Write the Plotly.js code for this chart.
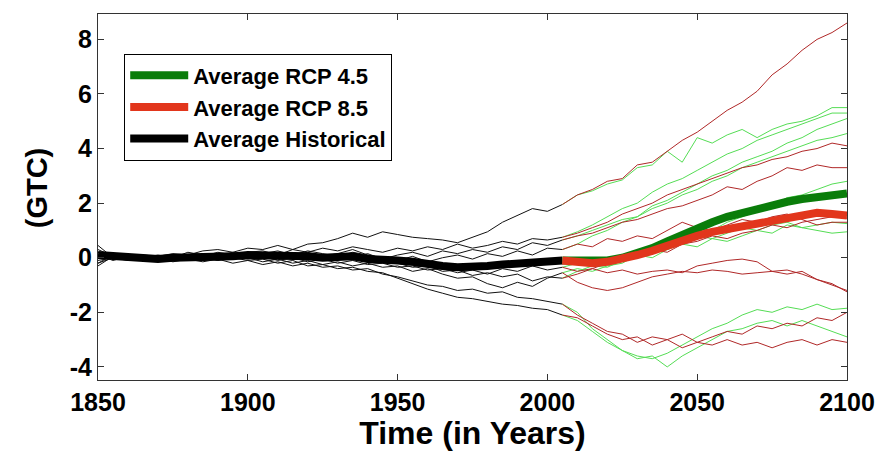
<!DOCTYPE html>
<html>
<head>
<meta charset="utf-8">
<script src="https://cdn.plot.ly/plotly-3.0.1.min.js"></script>
<style>html,body{margin:0;padding:0;background:#fff;}#chart{width:882px;height:451px;}</style>
</head>
<body>
<div id="chart"></div>
<script>
// ---------- data ----------
const histYears = [1850,1855,1860,1865,1870,1875,1880,1885,1890,1895,1900,1905,1910,1915,1920,1925,1930,1935,1940,1945,1950,1955,1960,1965,1970,1975,1980,1985,1990,1995,2000,2005];
const projYears = [2005,2010,2015,2020,2025,2030,2035,2040,2045,2050,2055,2060,2065,2070,2075,2080,2085,2090,2095,2100];

const hist1 = [0.3,0.05,0.0,0.1,0.05,0.15,0.1,0.25,0.3,0.2,0.35,0.3,0.45,0.3,0.5,0.55,0.7,0.9,0.75,0.95,0.85,0.75,0.7,0.65,0.55,0.75,0.95,1.3,1.55,1.8,1.7,1.95];
const hist2 = [-0.2,0.1,-0.05,0.0,0.1,0.0,0.2,0.1,0.15,0.05,0.2,0.25,0.1,0.3,0.2,0.35,0.25,0.4,0.3,0.2,0.35,0.25,0.4,0.3,0.5,0.35,0.45,0.6,0.5,0.7,0.65,0.75];
const hist3 = [0.45,0.0,-0.1,0.05,-0.05,0.1,0.0,0.15,0.05,0.2,0.1,0.0,0.15,0.05,0.0,-0.1,0.05,0.0,0.15,-0.05,0.1,0.2,0.05,0.25,0.15,0.3,0.2,0.4,0.3,0.55,0.45,0.65];
const hist4 = [0.1,-0.1,0.05,-0.05,0.0,0.1,-0.05,0.05,0.2,0.1,0.0,0.15,0.25,0.1,0.2,0.05,0.15,0.3,0.1,0.0,-0.1,0.05,-0.15,0.0,0.1,-0.05,0.15,0.05,0.25,0.1,0.35,0.3];
const hist5 = [-0.3,0.05,-0.05,0.0,-0.1,0.05,0.0,-0.1,0.0,0.1,-0.05,0.05,-0.1,0.0,-0.15,-0.05,-0.2,-0.1,-0.25,-0.2,-0.35,-0.3,-0.45,-0.4,-0.55,-0.45,-0.6,-0.4,-0.5,-0.3,-0.45,-0.35];
const hist6 = [0.2,-0.05,0.0,-0.1,0.05,-0.05,0.1,0.0,-0.1,0.05,0.0,-0.15,-0.05,-0.2,-0.1,-0.25,-0.15,-0.3,-0.2,-0.35,-0.3,-0.5,-0.4,-0.6,-0.75,-0.7,-0.95,-1.1,-0.9,-1.05,-0.75,-0.55];
const hist7 = [-0.1,0.0,0.1,-0.05,0.0,-0.15,-0.05,0.05,-0.1,0.0,0.1,0.0,0.2,0.1,0.25,0.15,0.05,0.2,0.1,-0.05,-0.2,-0.35,-0.3,-0.5,-0.45,-0.65,-0.55,-0.7,-0.6,-0.85,-0.7,-0.75];
const hist8 = [0.0,0.15,-0.05,0.05,-0.1,0.0,-0.05,-0.15,-0.05,-0.2,-0.1,-0.25,-0.15,-0.3,-0.2,-0.35,-0.3,-0.45,-0.4,-0.6,-0.7,-0.85,-1.0,-1.05,-1.2,-1.15,-1.3,-1.25,-1.45,-1.5,-1.6,-1.7];
const hist9 = [-0.2,0.0,0.05,-0.1,0.0,-0.05,0.05,-0.05,0.1,0.0,-0.1,-0.05,-0.2,-0.1,-0.3,-0.25,-0.4,-0.35,-0.5,-0.55,-0.75,-0.95,-1.15,-1.3,-1.45,-1.5,-1.6,-1.7,-1.75,-1.85,-1.9,-2.1];
const histAvg = [0.1,0.05,0.0,0.0,-0.05,0.0,0.0,0.05,0.05,0.05,0.1,0.1,0.1,0.05,0.05,0.0,0.0,0.05,-0.05,-0.05,-0.1,-0.15,-0.25,-0.3,-0.35,-0.35,-0.3,-0.25,-0.2,-0.15,-0.1,-0.1];

const rcp45_1 = [1.95,2.3,2.45,2.7,2.85,3.3,3.4,3.9,3.5,4.4,4.2,4.5,4.7,4.4,4.7,4.9,5.0,5.2,5.5,5.5];
const rcp45_2 = [0.75,0.95,1.2,1.5,1.8,2.0,2.4,2.7,2.9,3.2,3.5,3.8,4.0,4.3,4.5,4.7,4.9,5.1,5.3,5.3];
const rcp45_3 = [0.65,0.8,1.0,1.2,1.4,1.5,1.8,2.0,2.3,2.5,2.8,3.0,3.3,3.5,3.7,3.9,4.1,4.3,4.4,4.55];
const rcp45_4 = [0.3,0.5,0.8,1.0,1.3,1.5,1.9,2.1,2.4,2.7,3.0,3.2,3.5,3.7,3.9,4.2,4.4,4.7,4.9,5.1];
const rcp45_5 = [-0.35,-0.2,-0.3,-0.1,0.0,0.2,0.4,0.3,0.6,0.8,0.7,0.9,1.1,1.0,1.2,1.3,1.1,1.2,1.3,1.25];
const rcp45_6 = [-0.55,-0.4,-0.5,-0.3,-0.2,0.1,0.0,0.3,0.5,0.4,0.7,0.6,0.8,1.0,0.9,1.2,1.1,1.0,0.9,0.95];
const rcp45_7 = [-0.75,-0.5,-0.3,-0.35,-0.1,0.2,0.4,0.6,0.5,0.9,1.0,1.3,1.5,1.7,1.9,2.2,2.3,2.5,2.7,2.8];
const rcp45_8 = [-1.7,-2.0,-2.6,-3.0,-3.4,-3.6,-3.7,-3.5,-3.2,-2.9,-2.6,-2.4,-2.1,-1.9,-2.0,-1.8,-1.9,-1.7,-1.9,-1.85];
const rcp45_9 = [-2.1,-2.3,-2.7,-3.1,-3.4,-3.7,-3.6,-4.0,-3.6,-3.3,-3.0,-2.7,-2.6,-2.4,-2.3,-2.5,-2.3,-2.5,-2.7,-2.9];

const rcp85_1 = [1.95,2.3,2.5,2.8,2.9,3.4,3.5,3.9,4.3,4.6,5.0,5.4,5.7,6.1,6.7,7.1,7.6,8.0,8.25,8.6];
const rcp85_2 = [0.75,0.9,1.1,1.3,1.6,1.8,2.0,2.3,2.5,2.7,2.9,3.1,3.3,3.4,3.6,3.7,3.9,4.0,4.2,4.1];
const rcp85_3 = [0.65,0.8,0.9,1.1,1.3,1.4,1.6,1.8,1.9,2.1,2.3,2.6,2.5,2.8,3.0,3.3,3.2,3.4,3.3,3.3];
const rcp85_4 = [0.3,0.5,0.4,0.7,0.6,0.8,0.7,1.0,1.3,1.1,1.0,1.2,1.4,1.3,1.5,1.6,1.4,1.2,1.3,1.3];
const rcp85_5 = [-0.35,-0.5,-0.4,-0.55,-0.45,-0.6,-0.5,-0.45,-0.55,-0.3,-0.2,-0.1,-0.05,-0.15,-0.5,-0.45,-0.6,-0.8,-0.95,-1.25];
const rcp85_6 = [-0.55,-0.9,-1.1,-1.2,-1.1,-0.9,-0.7,-0.6,-0.5,-0.55,-0.45,-0.5,-0.6,-0.55,-0.5,-0.6,-0.5,-0.8,-1.0,-1.2];
const rcp85_7 = [-0.75,-0.6,-0.4,-0.2,0.0,0.1,0.3,0.2,0.5,0.6,0.8,0.7,0.9,1.0,1.2,1.1,1.3,1.4,1.5,1.45];
const rcp85_8 = [-1.7,-2.1,-2.4,-2.7,-2.8,-3.1,-2.9,-3.0,-2.8,-3.1,-2.9,-2.7,-2.8,-2.5,-2.6,-2.4,-2.5,-2.2,-2.3,-2.0];
const rcp85_9 = [-2.1,-2.2,-2.5,-2.8,-3.0,-2.9,-3.2,-3.0,-3.3,-3.1,-3.2,-3.0,-3.2,-3.1,-3.3,-3.1,-3.0,-3.2,-3.0,-3.1];

const rcp45Avg = [-0.1,-0.1,-0.15,-0.1,0.0,0.15,0.35,0.6,0.85,1.05,1.3,1.5,1.65,1.8,1.9,2.05,2.15,2.2,2.3,2.35];
const rcp85Avg = [-0.1,-0.15,-0.2,-0.15,-0.05,0.1,0.25,0.45,0.65,0.8,0.95,1.05,1.2,1.3,1.4,1.5,1.55,1.65,1.6,1.55];

const legendNames = ['Average RCP 4.5','Average RCP 8.5','Average Historical'];
const xTickVals = [1850,1900,1950,2000,2050,2100];
const yTickVals = [-4,-2,0,2,4,6,8];
const yTickText = ['-4','-2','0','2','4','6','8'];
const xTitle = 'Time (in Years)';
const yTitle = '(GTC)';

// ---------- traces ----------
const histRuns = [hist1,hist2,hist3,hist4,hist5,hist6,hist7,hist8,hist9];
const g45 = [rcp45_1,rcp45_2,rcp45_3,rcp45_4,rcp45_5,rcp45_6,rcp45_7,rcp45_8,rcp45_9];
const r85 = [rcp85_1,rcp85_2,rcp85_3,rcp85_4,rcp85_5,rcp85_6,rcp85_7,rcp85_8,rcp85_9];

const traces = [];
histRuns.forEach(v => traces.push({x: histYears, y: v, mode:'lines', line:{color:'#111', width:1}, showlegend:false, hoverinfo:'skip'}));
g45.forEach(v => traces.push({x: projYears, y: v, mode:'lines', line:{color:'#55dd55', width:1}, showlegend:false, hoverinfo:'skip'}));
r85.forEach(v => traces.push({x: projYears, y: v, mode:'lines', line:{color:'#b02828', width:1}, showlegend:false, hoverinfo:'skip'}));
traces.push({x: histYears, y: histAvg, mode:'lines', name: legendNames[2], legendrank:3, line:{color:'#000', width:8}});
traces.push({x: projYears, y: rcp45Avg, mode:'lines', name: legendNames[0], legendrank:1, line:{color:'#0a7d0a', width:8}});
traces.push({x: projYears, y: rcp85Avg, mode:'lines', name: legendNames[1], legendrank:2, line:{color:'#e2361c', width:8}});

const F = 'Liberation Sans, Arial, sans-serif';
const axisCommon = {
  showgrid:false, zeroline:false, showline:true, mirror:'ticks',
  linecolor:'#333', linewidth:1, ticks:'inside', ticklen:6, tickcolor:'#333',
  tickfont:{family:F, size:25, color:'#000', weight:'bold'}
};

const layout = {
  width:882, height:451,
  margin:{l:98, r:35, t:14, b:71},
  paper_bgcolor:'#fff', plot_bgcolor:'#fff',
  showlegend:true,
  legend:{x:0.035, y:0.892, xanchor:'left', yanchor:'top',
    bgcolor:'#fff', bordercolor:'#000', borderwidth:1,
    font:{family:F, size:22, color:'#000', weight:'bold'},
    tracegroupgap:0, itemwidth:58},
  xaxis: Object.assign({}, axisCommon, {
    range:[1850,2100], tickmode:'array', tickvals:xTickVals,
    ticktext: xTickVals.map(String),
    title:{text:xTitle, font:{family:F, size:32, color:'#000', weight:'bold'}, standoff:7}
  }),
  yaxis: Object.assign({}, axisCommon, {
    range:[-4.48,8.93], tickmode:'array', tickvals:yTickVals, ticktext:yTickText
  }),
  annotations:[{
    text:yTitle, xref:'paper', yref:'paper', x:-0.0814, y:0.524,
    xanchor:'center', yanchor:'middle', textangle:-90, showarrow:false,
    font:{family:F, size:29, color:'#000', weight:'bold'}
  }]
};

Plotly.newPlot('chart', traces, layout, {staticPlot:true, displayModeBar:false});
</script>
</body>
</html>
